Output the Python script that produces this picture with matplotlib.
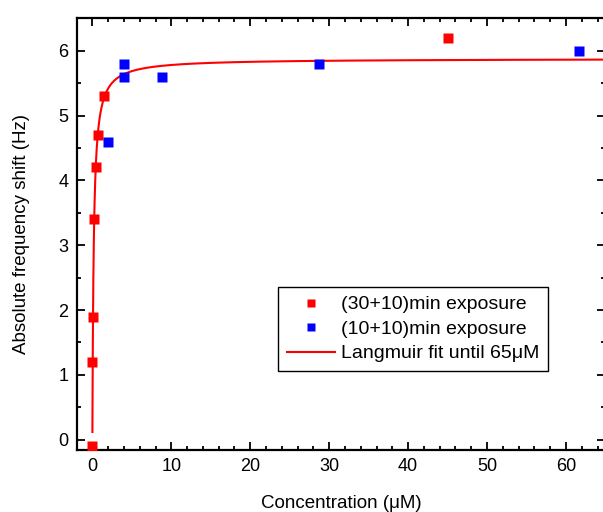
import numpy as np
import matplotlib.pyplot as plt

plt.rcParams['font.family'] = ['Liberation Sans', 'DejaVu Sans']

# (30+10) min exposure
conc_30 = [0.0, 0.0, 0.08, 0.2, 0.5, 0.68, 1.43, 45.0]
shift_30 = [-0.1, 1.2, 1.9, 3.4, 4.2, 4.7, 5.3, 6.2]

# (10+10) min exposure
conc_10 = [2.0, 4.0, 4.0, 8.8, 28.7, 61.7]
shift_10 = [4.6, 5.8, 5.6, 5.6, 5.8, 6.0]

# Langmuir fit parameters
b_max = 5.88
k_d = 0.17
fit_start, fit_end = 0.0035, 66

x_fit = np.linspace(fit_start, 1, 200)
x_fit = np.concatenate([x_fit, np.linspace(1, fit_end, 400)])
y_fit = b_max * x_fit / (k_d + x_fit)

fig = plt.figure(figsize=(6.03, 5.12), dpi=100)
ax = fig.add_axes([0.127, 0.121, 0.877, 0.843])

ax.plot(x_fit, y_fit, color='red', lw=1.5, zorder=2, label='Langmuir fit until 65\u03bcM')
ax.plot(conc_30, shift_30, ls='none', marker='s', ms=7, color='red', mec='none',
        zorder=3, label='(30+10)min exposure')
ax.plot(conc_10, shift_10, ls='none', marker='s', ms=7, color='blue', mec='none',
        zorder=3, label='(10+10)min exposure')

ax.set_xlim(-2, 65)
ax.set_ylim(-0.16, 6.5)
ax.set_xticks(np.arange(0, 70, 10))
ax.set_xticks(np.arange(0, 66, 2), minor=True)
ax.set_yticks(np.arange(0, 7, 1))
ax.set_yticks(np.arange(0, 6.6, 0.5), minor=True)

ax.tick_params(which='both', direction='in', top=True, right=True, labelsize=13, width=1.3)
ax.tick_params(which='major', length=6, pad=6)
ax.tick_params(which='minor', length=3)
for s in ax.spines.values():
    s.set_linewidth(1.6)

ax.set_xlabel('Concentration (\u03bcM)', fontsize=13.5, labelpad=14)
ax.set_ylabel('Absolute frequency shift (Hz)', fontsize=13.5, labelpad=20)

handles, labels = ax.get_legend_handles_labels()
order = [1, 2, 0]
leg = ax.legend([handles[i] for i in order], [labels[i] for i in order],
                loc='lower left', bbox_to_anchor=(0.381, 0.183), fontsize=14,
                numpoints=1, markerscale=0.8, handlelength=2.5, handletextpad=0.3,
                borderpad=0.45, labelspacing=0.35, fancybox=False, framealpha=1,
                edgecolor='black', borderaxespad=0)
leg.get_frame().set_linewidth(1.0)

fig.savefig('out.png', dpi=100)
